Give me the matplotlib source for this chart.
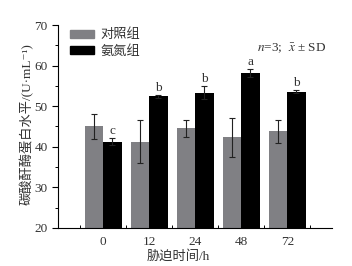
import matplotlib
matplotlib.use('Agg')
import matplotlib.pyplot as plt
from matplotlib.patches import Patch
from matplotlib.ticker import MultipleLocator, FixedLocator
import numpy as np

plt.rcParams['font.family'] = ['Liberation Serif', 'Noto Sans CJK SC', 'DejaVu Serif']
plt.rcParams['mathtext.fontset'] = 'stix'

times = ['0', '12', '24', '48', '72']
control = [45.0, 41.2, 44.6, 42.3, 43.8]
control_sd = [3.1, 5.3, 2.1, 4.8, 2.8]
ammonia = [41.3, 52.4, 53.3, 58.2, 53.6]
ammonia_sd = [0.8, 0.3, 1.6, 0.9, 0.4]
letters = ['c', 'b', 'b', 'a', 'b']

txt = '#333333'
grey = '#808084'

fig = plt.figure(figsize=(3.52, 2.66), dpi=100)
ax = fig.add_axes([0.165, 0.143, 0.778, 0.763])

x = np.arange(len(times))
w = 0.4
ax.bar(x - w/2, control, w, color=grey,
       yerr=control_sd, error_kw=dict(ecolor='#222222', elinewidth=0.8, capsize=2, capthick=0.8))
ax.bar(x + w/2, ammonia, w, color='black',
       yerr=ammonia_sd, error_kw=dict(ecolor='#222222', elinewidth=0.8, capsize=2, capthick=0.8))

for xi, v, s, l in zip(x, ammonia, ammonia_sd, letters):
    ax.text(xi + w/2, v + s + 0.3, l, ha='center', va='bottom', fontsize=9.5, color=txt)

ax.set_xlim(-0.98, 4.97)
ax.set_ylim(20, 70)
ax.spines['top'].set_visible(False)
ax.spines['right'].set_visible(False)
ax.spines['left'].set_linewidth(0.8)
ax.spines['bottom'].set_linewidth(0.8)

ax.set_xticks(x)
ax.set_xticklabels(times)
ax.xaxis.set_minor_locator(FixedLocator(np.arange(-0.5, 5, 1)))
ax.tick_params(axis='x', which='major', length=0, pad=6, labelsize=9.5, labelcolor=txt)
ax.tick_params(axis='x', which='minor', direction='in', length=2, width=0.7)
ax.yaxis.set_major_locator(MultipleLocator(10))
ax.yaxis.set_minor_locator(MultipleLocator(5))
ax.tick_params(axis='y', which='major', direction='out', length=4, width=0.8, labelsize=9.5, labelcolor=txt)
ax.tick_params(axis='y', which='minor', direction='out', length=2, width=0.7)

ax.set_xlabel('胁迫时间/h', fontsize=9.5, color=txt)
ax.xaxis.set_label_coords(0.44, -0.11)
ax.set_ylabel('碳酸酐酶蛋白水平/(U·mL⁻¹)', fontsize=9.5, color=txt)
ax.yaxis.set_label_coords(-0.09, 0.51)

handles = [Patch(color=grey, label='对照组'), Patch(color='black', label='氨氮组')]
leg = ax.legend(handles=handles, loc='upper left', bbox_to_anchor=(0.0, 1.04), frameon=False,
                fontsize=9.5, handlelength=1.8, handleheight=0.55, labelspacing=0.3, handletextpad=0.5)
for t in leg.get_texts():
    t.set_color(txt)

ax.text(0.98, 64.3, '$n$=3;  $\\bar{x}$ ± SD', transform=ax.get_yaxis_transform(),
        ha='right', va='center', fontsize=9.5, color=txt)

fig.savefig('out.png', dpi=100)
